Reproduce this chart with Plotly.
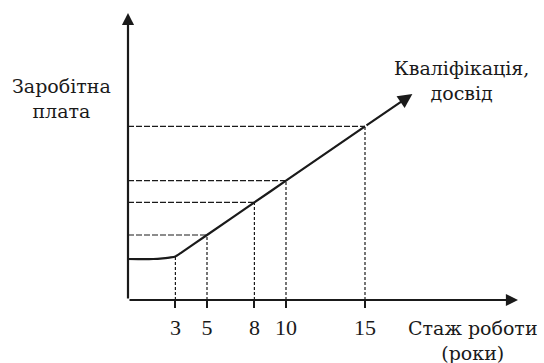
import plotly.graph_objects as go

# Data
years = [0, 1, 1.6, 2.2, 2.7, 3, 3.4, 5, 8, 10, 15, 18]
wage = [41, 40.8, 41, 41.7, 42.6, 43.6, 47.7, 65, 97.6, 119.3, 173.6, 206]
tick_years = [3, 5, 8, 10, 15]
tick_labels = ["3", "5", "8", "10", "15"]
h_guide_years = [5, 8, 10, 15]

y_label = "Заробітна<br>плата"
x_label = "Стаж роботи<br>(роки)"
curve_label = "Кваліфікація,<br>досвід"

LABEL_FONT = "DejaVu Serif"
TICK_FONT = "Liberation Serif"
INK = "#1a1a1a"

# plot-area geometry in pixels
L, R, T, B = 128, 525, 10, 300
W, H = 544, 363

def px(xp):
    return (xp - L) / (R - L)

def py(yp):
    return (B - yp) / (B - T)

def wage_at(t):
    return wage[years.index(t)]

fig = go.Figure()

# dashed guides
for t in tick_years:
    fig.add_trace(go.Scatter(x=[t, t], y=[0, wage_at(t)], mode="lines",
                             line=dict(color=INK, width=1.2, dash="3px,2px"),
                             hoverinfo="skip", showlegend=False))
for t in h_guide_years:
    fig.add_trace(go.Scatter(x=[0, t], y=[wage_at(t), wage_at(t)], mode="lines",
                             line=dict(color=INK, width=1.2, dash="6px,2px"),
                             hoverinfo="skip", showlegend=False))

# main curve
fig.add_trace(go.Scatter(x=years[:-1], y=wage[:-1], mode="lines",
                         line=dict(color=INK, width=2.2, shape="spline", smoothing=0.6),
                         showlegend=False))

X_MAX = (R - L) / 15.8
Y_MAX = B - T

# arrow at curve end
fig.add_annotation(x=years[-1], y=wage[-1], ax=years[-2], ay=wage[-2],
                   xref="x", yref="y", axref="x", ayref="y", text="",
                   showarrow=True, arrowhead=2, arrowsize=1.3, arrowwidth=2.2,
                   arrowcolor=INK)
# axes arrows
fig.add_annotation(x=(518 - L) / 15.8, y=0, ax=0, ay=0,
                   xref="x", yref="y", axref="x", ayref="y", text="",
                   showarrow=True, arrowhead=2, arrowsize=1.1, arrowwidth=2.2,
                   arrowcolor=INK)
fig.add_annotation(x=0, y=B - 13, ax=0, ay=0,
                   xref="x", yref="y", axref="x", ayref="y", text="",
                   showarrow=True, arrowhead=2, arrowsize=1.1, arrowwidth=2.2,
                   arrowcolor=INK)

# labels centred at pixel positions
def add_label(txt, cx, cy):
    fig.add_annotation(x=px(cx), y=py(cy), xref="paper", yref="paper",
                       text=txt, showarrow=False, xanchor="center", yanchor="middle",
                       align="center", font=dict(family=LABEL_FONT, size=19, color=INK))

add_label(y_label, 61, 99)
add_label(curve_label, 461, 80)
add_label(x_label, 473, 340)

fig.update_xaxes(range=[0, X_MAX], showgrid=False, zeroline=False, showline=False,
                 tickvals=tick_years, ticktext=tick_labels, ticks="outside",
                 ticklen=7, tickwidth=1.5, tickcolor=INK, ticklabelstandoff=1,
                 tickfont=dict(family=TICK_FONT, size=22, color=INK))
fig.update_yaxes(range=[0, Y_MAX], showgrid=False, zeroline=False, showline=False,
                 showticklabels=False, ticks="")

fig.update_layout(width=W, height=H, margin=dict(l=L, r=W - R, t=T, b=H - B),
                  plot_bgcolor="white", paper_bgcolor="white")

fig.write_html("out.html", config={"displayModeBar": False},
               post_script="document.body.style.margin='0';")
